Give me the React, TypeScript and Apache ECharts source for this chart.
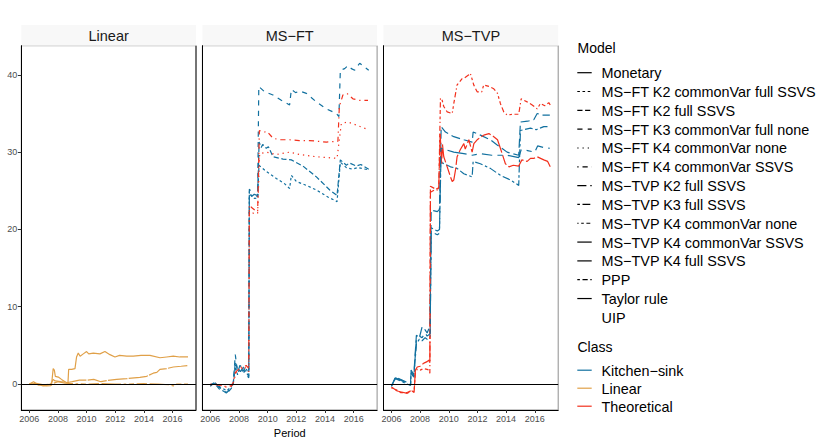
import React, { useEffect, useRef } from "react";
import * as echarts from "echarts";

// ---------- axis settings ----------
const X_MIN = 2005.445;
const X_MAX = 2017.635;
const Y_MIN = -3.36;
const Y_MAX = 43.77;
const X_TICKS = [2006, 2008, 2010, 2012, 2014, 2016];
const Y_TICKS = [0, 10, 20, 30, 40];
const PANELS = ["Linear", "MS\u2212FT", "MS\u2212TVP"];
const CLASSES = ["Kitchen\u2212sink", "Linear", "Theoretical"];
const CLASS_COLORS = ["#11709f", "#e0a048", "#f2301d"];
const MODELS = [
  "Monetary",
  "MS\u2212FT K2 commonVar full SSVS",
  "MS\u2212FT K2 full SSVS",
  "MS\u2212FT K3 commonVar full none",
  "MS\u2212FT K4 commonVar none",
  "MS\u2212FT K4 commonVar SSVS",
  "MS\u2212TVP K2 full SSVS",
  "MS\u2212TVP K3 full SSVS",
  "MS\u2212TVP K4 commonVar none",
  "MS\u2212TVP K4 commonVar SSVS",
  "MS\u2212TVP K4 full SSVS",
  "PPP",
  "Taylor rule",
  "UIP",
];
// ggplot linetype hex patterns (null = solid, "blank" = no line)
const MODEL_LINETYPES = [
  null, "22", "42", "44", "13", "1343", "73", "2262", "12223242", "F282", "F4448444", "224282F2", "F1", "blank",
];

// ---------- data: [year, value] ----------
// Linear panel
const LIN_MONETARY: [number, number][] = [
  [2006.0, 0.0], [2006.3, 0.3], [2006.6, -0.1], [2007.0, -0.2], [2007.3, -0.1], [2007.56, 0.0], [2007.67, 2.0],
  [2007.75, 1.8], [2007.82, 1.0], [2008.03, 0.9], [2008.25, 0.6], [2008.5, 0.3], [2008.7, 0.1], [2008.75, 1.9],
  [2008.96, 1.9], [2009.19, 2.0], [2009.3, 3.5], [2009.42, 4.0], [2009.55, 3.6], [2009.77, 3.9], [2010.0, 4.2],
  [2010.15, 3.9], [2010.47, 4.0], [2010.93, 3.9], [2011.28, 4.2], [2011.63, 3.8], [2011.98, 3.5], [2012.3, 3.7],
  [2012.8, 3.6], [2013.26, 3.6], [2013.8, 3.7], [2014.42, 3.7], [2015.12, 3.4], [2015.59, 3.5], [2016.05, 3.6],
  [2016.5, 3.5], [2017.08, 3.5],
];
const LIN_TAYLOR: [number, number][] = [
  [2006.0, 0.0], [2006.5, 0.1], [2007.0, -0.1], [2007.5, 0.0], [2007.67, 0.6], [2007.8, 0.4], [2008.2, 0.3],
  [2008.7, 0.2], [2009.0, 0.3], [2009.5, 0.5], [2010.0, 0.5], [2010.5, 0.6], [2011.0, 0.3], [2011.4, 0.45],
  [2012.1, 0.6], [2012.8, 0.7], [2013.72, 0.86], [2014.19, 1.0], [2014.65, 1.4], [2014.9, 1.5], [2015.12, 1.9],
  [2015.59, 2.0], [2016.05, 2.2], [2016.6, 2.3], [2017.08, 2.4],
];
const LIN_PPP: [number, number][] = [
  [2006.0, 0.0], [2006.4, 0.1], [2006.8, -0.2], [2007.2, -0.25], [2007.5, -0.2], [2007.7, 0.1], [2008.0, 0.3],
  [2008.5, 0.1], [2009.0, 0.05], [2010.0, 0.0], [2011.0, 0.05], [2012.0, 0.0], [2013.0, 0.0], [2014.0, 0.05],
  [2015.0, 0.0], [2015.8, -0.1], [2016.05, -0.25], [2016.3, 0.0], [2017.08, 0.0],
];
// MS-FT panel
const MSFT_K3_CV_FULL_NONE: [number, number][] = [
  [2006.0, -0.3], [2006.3, 0.3], [2006.6, -0.4], [2006.9, -0.8], [2007.15, -1.1], [2007.45, -0.5], [2007.6, 0.2],
  [2007.74, 3.8], [2007.9, 1.5], [2008.1, 2.6], [2008.3, 1.8], [2008.5, 1.3], [2008.68, 0.8], [2008.72, 25.2],
  [2008.9, 24.8], [2009.1, 24.5], [2009.3, 24.4], [2009.38, 38.5], [2009.79, 37.8], [2010.37, 37.4], [2010.95, 36.7],
  [2011.53, 36.1], [2011.65, 38.1], [2011.95, 37.7], [2012.23, 37.9], [2012.7, 37.6], [2013.4, 36.5], [2014.1, 35.6],
  [2014.79, 35.0], [2014.97, 34.6], [2015.07, 40.6], [2015.37, 40.8], [2015.6, 41.2], [2015.84, 40.8],
  [2016.07, 40.6], [2016.42, 41.5], [2016.77, 41.0], [2017.05, 40.6],
];
const MSFT_K2_FULL_SSVS: [number, number][] = [
  [2006.0, -0.2], [2006.3, 0.1], [2006.6, -0.6], [2006.9, -0.9], [2007.15, -1.2], [2007.45, -0.6], [2007.6, 0.0],
  [2007.74, 2.8], [2007.9, 2.0], [2008.1, 1.6], [2008.3, 2.2], [2008.5, 1.5], [2008.68, 1.0], [2008.72, 24.6],
  [2008.9, 24.3], [2009.1, 24.6], [2009.3, 24.2], [2009.4, 31.3], [2009.55, 30.6], [2009.65, 31.0], [2009.9, 30.5],
  [2010.05, 30.7], [2010.37, 29.4], [2011.07, 29.1], [2011.65, 29.0], [2012.46, 28.2], [2013.4, 26.8],
  [2014.33, 25.1], [2014.84, 24.4], [2015.07, 29.0], [2015.49, 28.3], [2015.7, 28.6], [2016.19, 28.2],
  [2016.5, 28.4], [2017.05, 27.8],
];
const MSFT_K2_CV_FULL_SSVS: [number, number][] = [
  [2006.0, -0.1], [2006.3, 0.2], [2006.6, -0.3], [2006.9, -0.6], [2007.15, -0.9], [2007.45, -0.3], [2007.6, 0.3],
  [2007.74, 2.2], [2007.9, 1.2], [2008.1, 2.4], [2008.3, 1.4], [2008.5, 2.0], [2008.68, 1.2], [2008.72, 24.9],
  [2008.9, 24.2], [2009.1, 24.0], [2009.3, 24.1], [2009.39, 28.3], [2009.9, 27.5], [2010.6, 26.6], [2011.19, 25.9],
  [2011.53, 25.3], [2011.65, 27.0], [2012.0, 26.2], [2012.7, 25.7], [2013.4, 25.1], [2014.2, 24.2], [2014.84, 23.6],
  [2015.07, 28.7], [2015.49, 28.0], [2015.9, 27.8], [2016.3, 28.0], [2017.05, 27.7],
];
const MSFT_K4_CV_SSVS: [number, number][] = [
  [2006.0, 0.0], [2006.5, -0.1], [2007.0, -0.3], [2007.5, -0.2], [2007.6, 0.3], [2007.75, 1.5], [2007.9, 1.8],
  [2008.1, 2.2], [2008.3, 2.1], [2008.5, 2.4], [2008.68, 2.0], [2008.72, 23.2], [2008.9, 22.8], [2009.1, 22.5],
  [2009.3, 22.3], [2009.42, 32.8], [2009.79, 32.6], [2009.95, 32.7], [2010.37, 31.8], [2010.84, 31.6],
  [2011.53, 31.6], [2012.2, 31.5], [2012.93, 31.5], [2014.1, 31.3], [2014.9, 31.4], [2015.0, 35.9],
  [2015.25, 37.4], [2015.53, 37.6], [2015.95, 36.9], [2016.42, 36.7], [2017.0, 36.7],
];
const MSFT_K4_CV_NONE: [number, number][] = [
  [2006.0, -0.1], [2006.5, 0.0], [2007.0, -0.4], [2007.5, -0.3], [2007.6, 0.1], [2007.75, 1.2], [2007.9, 2.0],
  [2008.1, 1.7], [2008.3, 2.3], [2008.5, 2.0], [2008.68, 1.6], [2008.72, 22.5], [2008.9, 22.2], [2009.1, 22.0],
  [2009.3, 22.1], [2009.44, 29.8], [2009.9, 30.0], [2010.6, 29.7], [2011.53, 30.0], [2012.2, 29.7],
  [2013.4, 29.4], [2014.84, 29.2], [2015.14, 33.7], [2015.6, 33.9], [2016.19, 33.5], [2016.88, 33.0],
];
// MS-TVP panel
const MSTVP_K4_CV_NONE: [number, number][] = [
  [2006.0, -0.5], [2006.4, -0.8], [2006.63, -1.1], [2007.1, -1.1], [2007.44, -0.8], [2007.58, -1.0], [2007.67, 1.5],
  [2007.8, 1.9], [2008.0, 1.8], [2008.26, 2.0], [2008.49, 1.9], [2008.6, 1.8], [2008.68, 1.4], [2008.72, 25.6],
  [2009.0, 25.3], [2009.3, 25.0], [2009.42, 37.0], [2009.54, 36.7], [2009.65, 35.9], [2009.89, 35.2],
  [2010.24, 35.0], [2010.35, 36.3], [2010.58, 38.7], [2010.93, 39.5], [2011.1, 39.6], [2011.4, 40.0],
  [2011.5, 40.2], [2011.6, 39.6], [2011.74, 38.7], [2011.98, 37.8], [2012.3, 37.8], [2012.44, 38.7],
  [2012.8, 38.5], [2013.14, 38.2], [2013.4, 37.6], [2013.6, 36.3], [2013.84, 35.2], [2014.07, 34.8],
  [2014.5, 34.9], [2014.88, 34.9], [2015.05, 36.9], [2015.47, 36.5], [2015.82, 36.1], [2016.17, 35.6],
  [2016.4, 36.3], [2016.7, 36.0], [2016.98, 36.4], [2017.08, 36.1],
];
const MSTVP_K4_CV_SSVS: [number, number][] = [
  [2006.0, -0.4], [2006.4, -0.9], [2006.63, -1.0], [2007.1, -1.2], [2007.44, -0.9], [2007.58, -1.1], [2007.67, 1.8],
  [2007.8, 2.2], [2008.0, 2.3], [2008.26, 2.7], [2008.49, 2.9], [2008.6, 3.1], [2008.68, 2.7], [2008.72, 24.8],
  [2009.0, 25.1], [2009.3, 25.4], [2009.4, 32.4], [2009.5, 28.5], [2009.56, 31.0], [2009.65, 29.4],
  [2009.89, 28.1], [2010.12, 26.8], [2010.24, 26.2], [2010.35, 26.4], [2010.47, 27.7], [2010.58, 29.4],
  [2010.8, 30.3], [2011.05, 31.1], [2011.15, 30.4], [2011.4, 31.6], [2011.63, 30.0], [2011.75, 31.1],
  [2011.98, 31.6], [2012.44, 32.2], [2012.8, 32.4], [2013.14, 32.0], [2013.4, 31.6], [2013.6, 30.5],
  [2013.95, 28.5], [2014.2, 28.1], [2014.5, 28.3], [2014.88, 28.2], [2015.1, 29.0], [2015.47, 28.8],
  [2015.7, 29.2], [2015.95, 29.2], [2016.17, 29.4], [2016.63, 29.0], [2016.9, 28.8], [2017.08, 28.1],
];
const MSTVP_K2_FULL_SSVS: [number, number][] = [
  [2006.0, -0.3], [2006.28, 0.9], [2006.63, 0.6], [2007.1, 0.2], [2007.33, 0.0], [2007.37, 1.8], [2007.56, 1.2],
  [2007.74, 6.3], [2007.95, 6.0], [2008.14, 7.4], [2008.35, 7.0], [2008.49, 6.6], [2008.7, 7.6], [2008.77, 22.5],
  [2009.0, 22.4], [2009.2, 22.3], [2009.35, 22.6], [2009.47, 33.3], [2009.77, 32.6], [2010.35, 32.0],
  [2011.05, 31.6], [2011.63, 31.3], [2011.7, 32.6], [2012.21, 32.2], [2012.9, 31.6], [2013.4, 30.9],
  [2014.07, 30.0], [2014.88, 29.6], [2015.0, 33.9], [2015.5, 34.0], [2015.93, 34.2], [2016.17, 35.0],
  [2016.5, 34.8], [2017.05, 34.8],
];
const MSTVP_K4_FULL_SSVS: [number, number][] = [
  [2006.0, -0.3], [2006.28, 0.8], [2006.63, 0.5], [2007.1, 0.1], [2007.33, -0.1], [2007.37, 1.6], [2007.56, 1.0],
  [2007.74, 5.7], [2007.95, 6.2], [2008.14, 6.0], [2008.35, 6.6], [2008.49, 6.2], [2008.7, 6.5], [2008.77, 19.7],
  [2009.0, 19.5], [2009.2, 19.3], [2009.35, 19.5], [2009.45, 30.5], [2010.35, 30.0], [2011.05, 29.8],
  [2011.63, 29.6], [2012.2, 29.8], [2013.0, 29.6], [2014.07, 29.6], [2014.88, 29.3], [2015.05, 30.3],
  [2015.5, 30.2], [2016.0, 30.0], [2016.2, 30.8], [2016.6, 30.6], [2017.05, 30.5],
];
const MSTVP_K3_FULL_SSVS: [number, number][] = [
  [2006.0, -0.2], [2006.28, 0.7], [2006.63, 0.4], [2007.1, 0.0], [2007.33, -0.2], [2007.37, 1.4], [2007.56, 0.9],
  [2007.74, 5.2], [2007.95, 5.8], [2008.14, 5.6], [2008.35, 6.0], [2008.49, 5.8], [2008.7, 6.1], [2008.77, 20.2],
  [2009.0, 20.0], [2009.2, 19.8], [2009.35, 20.0], [2009.45, 28.7], [2010.12, 28.1], [2010.58, 27.9],
  [2011.05, 27.2], [2011.63, 26.8], [2011.7, 28.8], [2012.2, 28.5], [2012.9, 27.9], [2013.6, 27.0],
  [2014.3, 26.4], [2014.88, 25.7], [2015.0, 32.8], [2015.7, 33.1], [2016.1, 32.9], [2016.63, 33.3],
  [2017.05, 33.3],
];

// series list: [model index, panel index, class index, data]
const SERIES_DEFS: [number, number, number, [number, number][]][] = [
  [11, 0, 1, LIN_PPP],
  [12, 0, 1, LIN_TAYLOR],
  [0, 0, 1, LIN_MONETARY],
  [1, 1, 0, MSFT_K2_CV_FULL_SSVS],
  [2, 1, 0, MSFT_K2_FULL_SSVS],
  [3, 1, 0, MSFT_K3_CV_FULL_NONE],
  [4, 1, 2, MSFT_K4_CV_NONE],
  [5, 1, 2, MSFT_K4_CV_SSVS],
  [6, 2, 0, MSTVP_K2_FULL_SSVS],
  [7, 2, 0, MSTVP_K3_FULL_SSVS],
  [8, 2, 2, MSTVP_K4_CV_NONE],
  [9, 2, 2, MSTVP_K4_CV_SSVS],
  [10, 2, 0, MSTVP_K4_FULL_SSVS],
];

// ---------- layout (style only) ----------
const FONT = '"Liberation Sans", Arial, Helvetica, sans-serif';
const PANEL_LEFT0 = 21.3;
const PANEL_STEP = 181.1;
const PANEL_W = 174.7;
const PANEL_TOP = 45.7;
const PANEL_H = 364.3;
const STRIP_TOP = 25;
const STRIP_H = 20.7;
const LINE_W = 1.2;
const DASH_UNIT = 1.3;
const LEGEND_FONT = 14.4;

function dashFor(lt: string | null): any {
  if (lt === null || lt === "blank") return "solid";
  return lt.split("").map((c) => parseInt(c, 16) * DASH_UNIT);
}

export default function App() {
  const ref = useRef<HTMLDivElement>(null);

  useEffect(() => {
    if (!ref.current) return;
    const chart = echarts.init(ref.current, undefined, { renderer: "svg" });

    const grids = PANELS.map((_, i) => ({
      left: PANEL_LEFT0 + i * PANEL_STEP,
      top: PANEL_TOP,
      width: PANEL_W,
      height: PANEL_H,
      show: true,
      borderColor: "#8f8f8f",
      borderWidth: 1,
      backgroundColor: "#ffffff",
      containLabel: false,
    }));

    const xAxes = PANELS.map((_, i) => ({
      type: "value",
      gridIndex: i,
      min: X_MIN,
      max: X_MAX,
      splitLine: { show: false },
      axisLine: { show: true, onZero: false, lineStyle: { color: "#000", width: 1 } },
      axisTick: { show: true, length: 3, customValues: X_TICKS, lineStyle: { color: "#333", width: 1 } },
      axisLabel: {
        show: true,
        customValues: X_TICKS,
        color: "#4d4d4d",
        fontSize: 9,
        fontFamily: FONT,
        margin: 4,
        formatter: (v: number) => String(Math.round(v)),
      },
    }));

    const yAxes = PANELS.map((_, i) => ({
      type: "value",
      gridIndex: i,
      min: Y_MIN,
      max: Y_MAX,
      splitLine: { show: false },
      axisLine: { show: true, onZero: false, lineStyle: { color: "#000", width: 1 } },
      axisTick: { show: i === 0, length: 3.5, customValues: Y_TICKS, lineStyle: { color: "#333", width: 1 } },
      axisLabel: {
        show: i === 0,
        customValues: Y_TICKS,
        color: "#4d4d4d",
        fontSize: 9,
        fontFamily: FONT,
        margin: 4,
        formatter: (v: number) => String(Math.round(v)),
      },
    }));

    const lastInPanel: Record<number, number> = {};
    SERIES_DEFS.forEach((d, k) => {
      lastInPanel[d[1]] = k;
    });

    const series = SERIES_DEFS.map(([m, p, c, data], k) => {
      const s: any = {
        type: "line",
        name: MODELS[m] + " / " + CLASSES[c],
        xAxisIndex: p,
        yAxisIndex: p,
        data,
        showSymbol: false,
        symbol: "none",
        silent: true,
        clip: true,
        lineStyle: { color: CLASS_COLORS[c], width: LINE_W, type: dashFor(MODEL_LINETYPES[m]) },
        emphasis: { disabled: true },
        z: 2,
      };
      if (lastInPanel[p] === k) {
        s.markLine = {
          silent: true,
          symbol: ["none", "none"],
          label: { show: false },
          lineStyle: { color: "#000", width: 1.1, type: "solid" },
          data: [{ yAxis: 0 }],
          animation: false,
        };
      }
      return s;
    });

    const graphics: any[] = [];
    PANELS.forEach((name, i) => {
      const left = PANEL_LEFT0 + i * PANEL_STEP;
      graphics.push({
        type: "rect",
        shape: { x: left, y: STRIP_TOP, width: PANEL_W, height: STRIP_H },
        style: { fill: "#f8f8f8" },
        silent: true,
      });
      graphics.push({
        type: "text",
        x: left + PANEL_W / 2,
        y: STRIP_TOP + STRIP_H / 2 + 1,
        style: {
          text: name,
          fill: "#1a1a1a",
          fontSize: 14.5,
          fontFamily: FONT,
          align: "center",
          verticalAlign: "middle",
        },
        silent: true,
      });
    });
    // dark right edge of the first panel
    graphics.push({
      type: "line",
      shape: {
        x1: PANEL_LEFT0 + PANEL_W,
        y1: PANEL_TOP,
        x2: PANEL_LEFT0 + PANEL_W,
        y2: PANEL_TOP + PANEL_H,
      },
      style: { stroke: "#222", lineWidth: 1 },
      z: 10,
      silent: true,
    });
    // x axis title
    graphics.push({
      type: "text",
      x: PANEL_LEFT0 + PANEL_STEP + PANEL_W / 2,
      y: 432.5,
      style: { text: "Period", fill: "#000", fontSize: 11, fontFamily: FONT, align: "center", verticalAlign: "middle" },
      silent: true,
    });

    // legend: Model
    const LEG_KEY_X1 = 577.3;
    const LEG_KEY_X2 = 591.7;
    const LEG_TEXT_X = 601.5;
    graphics.push({
      type: "text",
      x: 577.5,
      y: 47.5,
      style: { text: "Model", fill: "#000", fontSize: 14, fontFamily: FONT, align: "left", verticalAlign: "middle" },
      silent: true,
    });
    MODELS.forEach((m, k) => {
      const y = 72.7 + k * 18.82;
      const lt = MODEL_LINETYPES[k];
      if (lt !== "blank") {
        graphics.push({
          type: "line",
          shape: { x1: LEG_KEY_X1, y1: y, x2: LEG_KEY_X2, y2: y },
          style: {
            stroke: "#000",
            lineWidth: LINE_W,
            lineDash: lt === null ? null : (dashFor(lt) as number[]),
          },
          silent: true,
        });
      }
      graphics.push({
        type: "text",
        x: LEG_TEXT_X,
        y: y + 0.5,
        style: { text: m, fill: "#000", fontSize: LEGEND_FONT, fontFamily: FONT, align: "left", verticalAlign: "middle" },
        silent: true,
      });
    });
    // legend: Class
    graphics.push({
      type: "text",
      x: 577.5,
      y: 346.5,
      style: { text: "Class", fill: "#000", fontSize: 14, fontFamily: FONT, align: "left", verticalAlign: "middle" },
      silent: true,
    });
    CLASSES.forEach((c, k) => {
      const y = 370.2 + k * 18.0;
      graphics.push({
        type: "line",
        shape: { x1: LEG_KEY_X1, y1: y, x2: LEG_KEY_X2, y2: y },
        style: { stroke: CLASS_COLORS[k], lineWidth: LINE_W },
        silent: true,
      });
      graphics.push({
        type: "text",
        x: LEG_TEXT_X,
        y: y + 0.5,
        style: { text: c, fill: "#000", fontSize: LEGEND_FONT, fontFamily: FONT, align: "left", verticalAlign: "middle" },
        silent: true,
      });
    });

    chart.setOption({
      animation: false,
      backgroundColor: "#ffffff",
      grid: grids,
      xAxis: xAxes,
      yAxis: yAxes,
      series,
      graphic: graphics,
    });

    return () => chart.dispose();
  }, []);

  return <div ref={ref} style={{ position: "fixed", left: 0, top: 0, width: 830, height: 445 }} />;
}
